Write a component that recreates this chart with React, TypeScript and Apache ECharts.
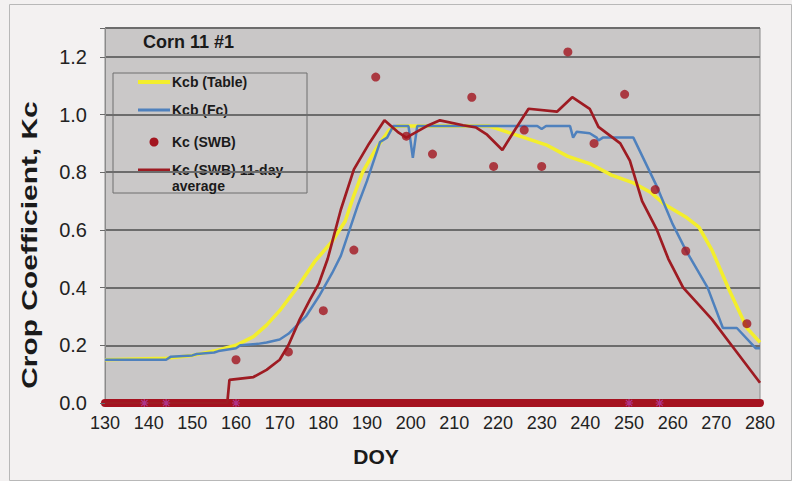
import React, { useEffect, useRef } from "react";
import * as echarts from "echarts";

const FONT = "'Liberation Sans', Arial, Helvetica, sans-serif";

// Kcb (Table)
const tableDays = [130, 144, 150, 155, 160, 164, 167, 170, 174, 178, 182, 185, 187, 189, 192, 195, 197, 218, 222, 226, 231, 236, 241, 246, 251, 255, 258, 263, 266, 269, 273, 277, 280];
const tableKcb = [0.15, 0.155, 0.165, 0.18, 0.2, 0.23, 0.27, 0.32, 0.4, 0.49, 0.56, 0.63, 0.72, 0.8, 0.88, 0.945, 0.96, 0.96, 0.94, 0.92, 0.895, 0.855, 0.83, 0.79, 0.763, 0.73, 0.69, 0.645, 0.61, 0.53, 0.39, 0.26, 0.21];

// Kcb (Fc)
const fcDays = [130, 144, 145, 150, 151, 155, 156, 160, 161, 165, 167, 170, 172, 174, 176, 179, 182, 184, 186, 188, 190, 193, 194.6, 196, 199.5, 200.5, 201.5, 229, 230, 231, 236.5, 237.2, 238, 241, 242.6, 243, 244, 251, 256.4, 260, 263, 268, 271.5, 274.7, 279, 280];
const fcKcb = [0.15, 0.15, 0.16, 0.165, 0.17, 0.175, 0.18, 0.19, 0.2, 0.205, 0.21, 0.22, 0.24, 0.27, 0.3, 0.37, 0.45, 0.51, 0.6, 0.69, 0.77, 0.905, 0.92, 0.96, 0.96, 0.85, 0.96, 0.96, 0.95, 0.96, 0.96, 0.92, 0.94, 0.935, 0.92, 0.91, 0.92, 0.92, 0.75, 0.62, 0.53, 0.4, 0.26, 0.26, 0.19, 0.19];

// Kc (SWB) 11-day average
const avgDays = [130, 158, 158.5, 164, 167, 170, 172, 174.6, 177, 179, 181, 184, 187, 190.5, 194, 197, 199, 203.7, 206.7, 212, 215, 217.5, 221, 224, 227, 233.5, 237, 241, 243, 248, 250.2, 253, 256.4, 259, 262.4, 266, 269, 274, 280];
const avgKc = [0, 0, 0.08, 0.09, 0.115, 0.15, 0.2, 0.29, 0.36, 0.415, 0.5, 0.67, 0.81, 0.9, 0.98, 0.94, 0.92, 0.96, 0.98, 0.963, 0.955, 0.93, 0.877, 0.95, 1.02, 1.01, 1.06, 1.02, 0.957, 0.9, 0.84, 0.7, 0.6, 0.5, 0.4, 0.34, 0.29, 0.19, 0.07];

// Kc (SWB) measured points
const swbDays = [160, 172, 180, 187, 192, 199, 205, 214, 219, 226, 230, 236, 242, 249, 256, 263, 277];
const swbKc = [0.15, 0.177, 0.32, 0.53, 1.13, 0.925, 0.863, 1.06, 0.82, 0.946, 0.82, 1.217, 0.9, 1.07, 0.74, 0.527, 0.275];

// small purple markers sitting on the zero line
const markDays = [139, 144, 160, 250, 257];
const markVals = [0, 0, 0, 0, 0];

const xTicks = [130, 140, 150, 160, 170, 180, 190, 200, 210, 220, 230, 240, 250, 260, 270, 280];
const yTicks = [0, 0.2, 0.4, 0.6, 0.8, 1.0, 1.2];

const zip = (a: number[], b: number[]) => a.map((v, i) => [v, b[i]]);

const YELLOW = "#f3ee2c";
const BLUE = "#4f81bd";
const RED = "#9e1b22";
const DOT = "#a3151f";

export default function App() {
  const ref = useRef<HTMLDivElement>(null);
  useEffect(() => {
    document.body.style.margin = "0";
    if (!ref.current) return;
    const chart = echarts.init(ref.current, null, { renderer: "svg" });
    const option: any = {
      animation: false,
      backgroundColor: "#f3f1f1",
      textStyle: { fontFamily: FONT },
      title: {
        text: "Corn 11 #1",
        left: 143,
        top: 33,
        padding: 0,
        textStyle: { fontFamily: FONT, fontSize: 18, fontWeight: "bold", color: "#1a1a1a" },
      },
      grid: {
        left: 105,
        right: 32,
        top: 28,
        bottom: 78,
        show: true,
        backgroundColor: "#c9c7c7",
        borderColor: "#8a8a8a",
        borderWidth: 1,
      },
      xAxis: {
        type: "value",
        min: xTicks[0],
        max: xTicks[xTicks.length - 1],
        interval: 10,
        axisLine: { show: true, lineStyle: { color: "#a5121f", width: 8 } },
        axisTick: { show: false },
        splitLine: { show: false },
        axisLabel: { fontFamily: FONT, fontSize: 18, color: "#222", margin: 11 },
      },
      yAxis: {
        type: "value",
        min: yTicks[0],
        max: 1.3,
        interval: 0.2,
        axisLine: { show: true, lineStyle: { color: "#8a8a8a", width: 1 } },
        axisTick: { show: true, length: 5, lineStyle: { color: "#6a6a6a" } },
        splitLine: { show: true, lineStyle: { color: "#6c6c6c", width: 1.8 } },
        axisLabel: {
          fontFamily: FONT,
          fontSize: 20,
          color: "#222",
          margin: 18,
          formatter: (v: number) => (yTicks.some((t) => Math.abs(t - v) < 1e-6) ? v.toFixed(1) : ""),
        },
      },
      graphic: [
        {
          type: "rect",
          left: 7,
          top: 2,
          shape: { width: 782, height: 476 },
          style: { fill: "none", stroke: "#b8b8b8", lineWidth: 1 },
          silent: true,
          z: -10,
        },
        {
          type: "text",
          x: 29,
          y: 245,
          rotation: Math.PI / 2,
          scaleX: 1.36,
          style: {
            text: "Crop Coefficient, Kc",
            font: `bold 22px ${FONT}`,
            fill: "#1a1a1a",
            align: "center",
            verticalAlign: "middle",
          },
        },
        {
          type: "text",
          x: 376,
          y: 456,
          style: {
            text: "DOY",
            font: `bold 21px ${FONT}`,
            fill: "#1a1a1a",
            align: "center",
            verticalAlign: "middle",
          },
        },
        {
          type: "group",
          z: 100,
          children: [
            {
              type: "rect",
              shape: { x: 113, y: 73, width: 194, height: 120 },
              style: { fill: "#cac8c8", stroke: "#6f6f6f", lineWidth: 1 },
            },
            { type: "line", shape: { x1: 138, y1: 82, x2: 170, y2: 82 }, style: { stroke: YELLOW, lineWidth: 4 } },
            { type: "text", x: 172, y: 82, style: { text: "Kcb (Table)", font: `bold 14px ${FONT}`, fill: "#1a1a1a", verticalAlign: "middle" } },
            { type: "line", shape: { x1: 138, y1: 110, x2: 170, y2: 110 }, style: { stroke: BLUE, lineWidth: 3 } },
            { type: "text", x: 172, y: 110, style: { text: "Kcb (Fc)", font: `bold 14px ${FONT}`, fill: "#1a1a1a", verticalAlign: "middle" } },
            { type: "circle", shape: { cx: 154, cy: 142, r: 4.5 }, style: { fill: DOT } },
            { type: "text", x: 172, y: 142, style: { text: "Kc (SWB)", font: `bold 14px ${FONT}`, fill: "#1a1a1a", verticalAlign: "middle" } },
            { type: "line", shape: { x1: 138, y1: 170, x2: 170, y2: 170 }, style: { stroke: RED, lineWidth: 3 } },
            { type: "text", x: 172, y: 170, style: { text: "Kc (SWB) 11-day", font: `bold 14px ${FONT}`, fill: "#1a1a1a", verticalAlign: "middle" } },
            { type: "text", x: 172, y: 186, style: { text: "average", font: `bold 14px ${FONT}`, fill: "#1a1a1a", verticalAlign: "middle" } },
          ],
        },
      ],
      series: [
        {
          name: "Kcb (Table)",
          type: "line",
          data: zip(tableDays, tableKcb),
          showSymbol: false,
          lineStyle: { color: YELLOW, width: 3.5 },
          itemStyle: { color: YELLOW },
          z: 2,
        },
        {
          name: "Kcb (Fc)",
          type: "line",
          data: zip(fcDays, fcKcb),
          showSymbol: false,
          lineStyle: { color: BLUE, width: 2.5 },
          itemStyle: { color: BLUE },
          z: 3,
        },
        {
          name: "Kc (SWB) 11-day average",
          type: "line",
          data: zip(avgDays, avgKc),
          showSymbol: false,
          lineStyle: { color: RED, width: 2.7 },
          itemStyle: { color: RED },
          z: 4,
        },
        {
          name: "Kc (SWB)",
          type: "scatter",
          data: zip(swbDays, swbKc),
          symbol: "circle",
          symbolSize: 9,
          itemStyle: { color: DOT },
          z: 5,
        },
        {
          name: "zero markers",
          type: "scatter",
          data: zip(markDays, markVals),
          symbol: "path://M0,-5L0,5M-5,0L5,0M-4,-4L4,4M-4,4L4,-4",
          symbolSize: 8,
          itemStyle: { color: "rgba(0,0,0,0)", borderColor: "#b23ca6", borderWidth: 1.2 },
          z: 6,
        },
      ],
    };
    chart.setOption(option);
    return () => chart.dispose();
  }, []);
  return <div ref={ref} style={{ width: 792, height: 481 }} />;
}
